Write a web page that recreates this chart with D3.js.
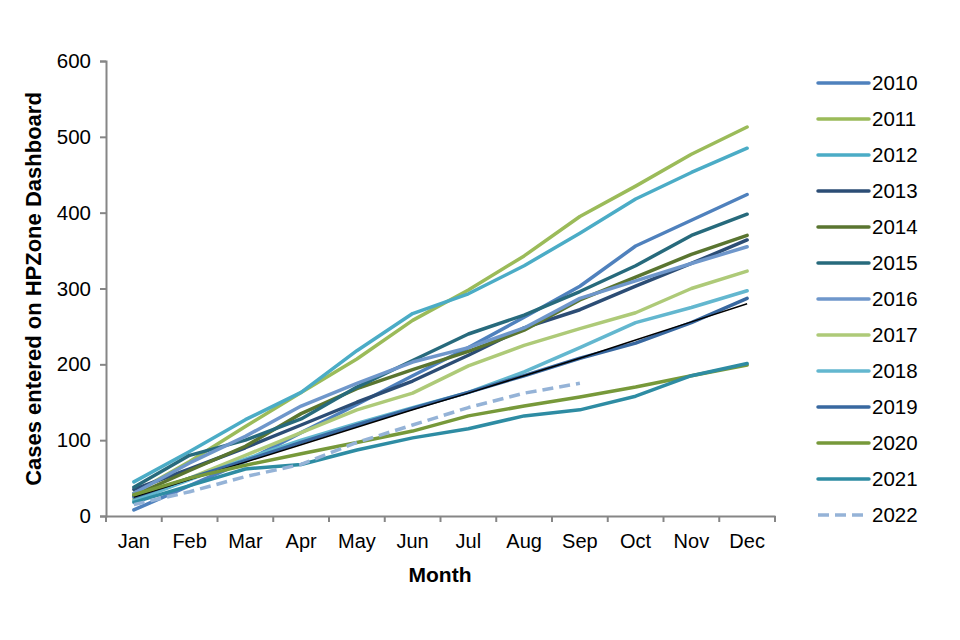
<!DOCTYPE html>
<html>
<head>
<meta charset="utf-8">
<script src="https://cdn.jsdelivr.net/npm/d3@7"></script>
<style>
  html, body { margin: 0; padding: 0; background: #fff; }
  svg { display: block; font-family: "Liberation Sans", Arial, sans-serif; }
</style>
</head>
<body>
<svg id="chart" width="960" height="640"></svg>
<script>
// ---- data ----
const months = ["Jan","Feb","Mar","Apr","May","Jun","Jul","Aug","Sep","Oct","Nov","Dec"];
const yTicks = [0, 100, 200, 300, 400, 500, 600];
const years = ["2010","2011","2012","2013","2014","2015","2016","2017","2018","2019","2020","2021","2022"];
const s2010 = [8, 40, 72, 110, 147, 185, 222, 262, 303, 356, 390, 424];
const s2011 = [30, 72, 118, 163, 207, 258, 298, 343, 395, 435, 477, 513];
const s2012 = [45, 85, 127, 163, 218, 267, 293, 330, 373, 418, 453, 485];
const s2013 = [35, 62, 90, 120, 150, 178, 212, 248, 272, 303, 333, 364];
const s2014 = [27, 60, 92, 135, 168, 193, 217, 245, 285, 315, 345, 370];
const s2015 = [38, 80, 100, 128, 170, 205, 240, 265, 296, 330, 370, 398];
const s2016 = [30, 70, 105, 145, 175, 203, 222, 248, 287, 310, 333, 355];
const s2017 = [22, 50, 80, 110, 140, 162, 198, 225, 247, 268, 300, 323];
const s2018 = [20, 48, 75, 100, 122, 143, 163, 190, 222, 255, 275, 297];
const s2019 = [25, 50, 73, 97, 120, 142, 163, 185, 208, 228, 255, 287];
const trendline = [25, 48, 71, 94, 117, 140, 162, 185, 208, 232, 256, 280];
const s2020 = [28, 50, 67, 82, 97, 112, 132, 145, 157, 170, 185, 199];
const s2021 = [18, 40, 62, 68, 87, 103, 115, 132, 140, 158, 185, 201];
const s2022 = [15, 32, 52, 68, 97, 120, 143, 162, 175];
const colors = ["#4F81BD","#9BBB59","#4BACC6","#2C4D75","#5A7530","#276A7C","#6F97CB","#AECA78","#63B7CF","#3868A0","#77993A","#2E8CA3","#95B3D7"];

const seriesVals = [s2010,s2011,s2012,s2013,s2014,s2015,s2016,s2017,s2018,s2019,s2020,s2021,s2022];
const series = years.map((y, i) => ({ name: y, values: seriesVals[i], color: colors[i], dashed: y === "2022" }));

// ---- layout ----
const svg = d3.select("#chart");
const x = d3.scaleBand().domain(months).range([106, 775]).padding(0);
const y = d3.scaleLinear().domain([0, 600]).range([516, 61]);
const axisColor = "#868686";
const font = "Liberation Sans, Arial, sans-serif";

const line = d3.line()
  .x((d, i) => x(months[i]) + x.bandwidth() / 2)
  .y(d => y(d));

// y axis
const yAxis = svg.append("g").attr("transform", "translate(106,0)")
  .call(d3.axisLeft(y).tickValues(yTicks).tickSize(6).tickPadding(9));
yAxis.select(".domain").attr("stroke", axisColor).attr("stroke-width", 2);
yAxis.selectAll(".tick line").attr("stroke", axisColor).attr("stroke-width", 2);
yAxis.selectAll(".tick text").attr("font-size", 20.5).attr("fill", "#000")
  .attr("font-family", font);

// x axis
const xAxis = svg.append("g").attr("transform", "translate(0,516)")
  .call(d3.axisBottom(x).tickSize(0).tickPadding(18));
xAxis.select(".domain").attr("stroke", axisColor).attr("stroke-width", 2);
xAxis.selectAll(".tick text").attr("font-size", 20).attr("fill", "#000")
  .attr("font-family", font);
const boundaries = months.map(m => x(m)).concat([x.range()[1]]);
svg.append("g").selectAll("line").data(boundaries).join("line")
  .attr("x1", d => d).attr("x2", d => d)
  .attr("y1", 516).attr("y2", 522)
  .attr("stroke", axisColor).attr("stroke-width", 2);

// lines
const g = svg.append("g");
function drawSeries(s) {
  g.append("path")
    .attr("d", line(s.values))
    .attr("fill", "none")
    .attr("stroke", s.color)
    .attr("stroke-width", 3.5)
    .attr("stroke-linejoin", "round")
    .attr("stroke-linecap", s.dashed ? "butt" : "round")
    .attr("stroke-dasharray", s.dashed ? "11,6" : null);
}
series.slice(0, 10).forEach(drawSeries);
g.append("path")
  .attr("d", line(trendline))
  .attr("fill", "none")
  .attr("stroke", "#000")
  .attr("stroke-width", 1.5);
series.slice(10).forEach(drawSeries);

// axis titles
svg.append("text")
  .attr("transform", "translate(41,289) rotate(-90)")
  .attr("text-anchor", "middle")
  .attr("font-size", 22).attr("font-weight", "bold")
  .text("Cases entered on HPZone Dashboard");
svg.append("text")
  .attr("x", 440).attr("y", 582)
  .attr("text-anchor", "middle")
  .attr("font-size", 21).attr("font-weight", "bold")
  .text("Month");

// legend
const legend = svg.append("g");
const leg = legend.selectAll("g").data(series).join("g")
  .attr("transform", (d, i) => `translate(818,${83 + i * 36})`);
leg.append("line")
  .attr("x1", 0).attr("x2", 51).attr("y1", 0).attr("y2", 0)
  .attr("stroke", d => d.color).attr("stroke-width", 3.5)
  .attr("stroke-linecap", d => d.dashed ? "butt" : "round")
  .attr("stroke-dasharray", d => d.dashed ? "11,6" : null);
leg.append("text")
  .attr("x", 54).attr("y", 0).attr("dy", "0.35em")
  .attr("font-size", 20.5)
  .text(d => d.name);
</script>
</body>
</html>
